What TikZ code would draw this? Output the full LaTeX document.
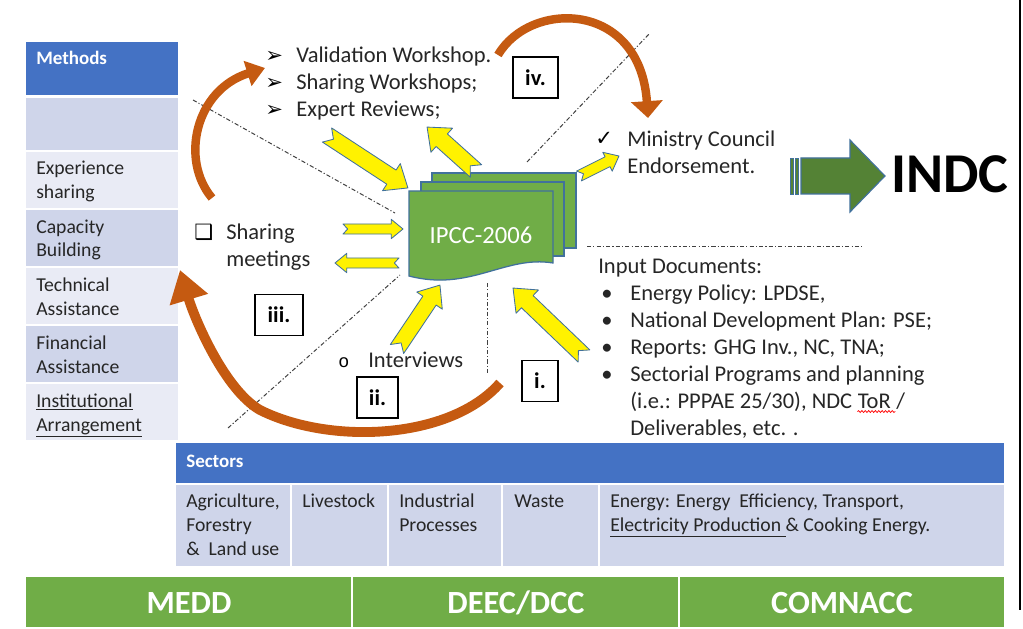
\documentclass[tikz,border=0pt]{standalone}
\usepackage{fontspec}
\setmainfont{Carlito}
\newfontfamily\symfont{DejaVu Sans}
\newfontfamily\monofont{Liberation Mono}
\usetikzlibrary{arrows.meta, calc, decorations.pathmorphing}

\definecolor{hdrblue}{HTML}{4472C4}
\definecolor{rowdark}{HTML}{CFD5EA}
\definecolor{rowlight}{HTML}{E9EBF5}
\definecolor{barGreen}{HTML}{70AD47}
\definecolor{arrowgreen}{HTML}{548235}
\definecolor{docblue}{HTML}{41719C}
\definecolor{rust}{HTML}{C55A11}
\definecolor{inkgray}{HTML}{262626}

% notched yellow block arrow: [size]{tail}{tip}
\newcommand\yarrow[3][1]{%
  \path[yarrowstyle] let \p1=($(#3)-(#2)$), \n1={veclen(\x1,\y1)}, \n2={atan2(\y1,\x1)} in
    [shift={(#2)}, rotate=\n2]
    (0pt,{#1*6pt}) -- ({\n1-#1*14pt},{#1*6pt}) -- ({\n1-#1*14pt},{#1*11.5pt}) -- ({\n1+0pt},0pt)
    -- ({\n1-#1*14pt},{-#1*11.5pt}) -- ({\n1-#1*14pt},{-#1*6pt}) -- (0pt,{-#1*6pt}) -- ({#1*5.5pt},0pt) -- cycle;}

\begin{document}
\begin{tikzpicture}[x=0.025cm, y=-0.025cm,
    lbl/.style={font=\fontsize{16}{19.2}\selectfont, text=inkgray, inner sep=0pt, anchor=base west},
    cell/.style={font=\fontsize{14}{17}\selectfont, text=inkgray, inner sep=0pt, anchor=base west},
    hdr/.style={font=\fontsize{13.5}{16}\selectfont\bfseries, text=white, inner sep=0pt, anchor=base west},
    sym/.style={font=\symfont\fontsize{15}{18}\selectfont, text=black, inner sep=0pt, anchor=base west},
    stage/.style={draw, fill=white, line width=1pt, font=\fontsize{16}{19}\selectfont\bfseries, minimum height=1.025cm, inner sep=0pt},
    agency/.style={font=\fontsize{23}{27}\selectfont\bfseries, text=white, anchor=base},
    axis/.style={dash pattern=on 3pt off 1.5pt on 0.8pt off 1.5pt, line width=0.7pt, black!75},
    loop/.style={line width=6pt, rust},
    yarrowstyle/.style={fill=yellow, draw=docblue, line width=0.6pt, line join=round},
    doc/.style={fill=barGreen, draw=docblue, line width=0.9pt}]

    \fill[white] (0,0) rectangle (1023,629);
    \useasboundingbox (0,0) rectangle (1023,629);

    % methods column
    \fill[hdrblue] (26,42) rectangle (178,95);
    \node[hdr] (methods) at (36,65) {Methods};
    \fill[rowdark] (26,98) rectangle (178,150);
    \foreach \ya/\rowc/\la/\lb [count=\i] in {152/rowlight/Experience/sharing,
        210/rowdark/Capacity/Building, 268/rowlight/Technical/Assistance,
        326/rowdark/Financial/Assistance, 384/rowlight/\underline{Institutional}/\underline{Arrangement}} {
      \fill[\rowc] (26,\ya) rectangle (178,\ya+56);
      \node[cell] (meth\i-a) at (36,\ya+23) {\la};
      \node[cell] (meth\i-b) at (36,\ya+47) {\lb};
    }

    % sectors table
    \fill[hdrblue] (176,443) rectangle (1004,483);
    \node[hdr] (sectors) at (186,467) {Sectors};
    \foreach \l/\r in {176/290, 292/387, 389/501, 503/598, 600/1004}
      \fill[rowdark] (\l,485) rectangle (\r,566);
    \node[cell] (agri1) at (186,507) {Agriculture,};
    \node[cell] (agri2) at (186,531) {Forestry};
    \node[cell] (agri3) at (186,555) {\&\ \ Land use};
    \node[cell] (livestock) at (302,507) {Livestock};
    \node[cell] (indus1) at (399,507) {Industrial};
    \node[cell] (indus2) at (399,531) {Processes};
    \node[cell] (waste) at (514,507) {Waste};
    \node[cell] (energy1) at (610,507) {Energy: Energy\ \ Efficiency, Transport,};
    \node[cell] (energy2) at (610,531) {\underline{Electricity Production\ }\& Cooking Energy.};

    % agencies
    \fill[barGreen] (26,577) rectangle (351,627);
    \fill[barGreen] (353,577) rectangle (678,627);
    \fill[barGreen] (680,577) rectangle (1004,627);
    \node[agency] (medd) at (189,613) {MEDD};
    \node[agency] (deec) at (516,613) {DEEC/DCC};
    \node[agency] (comnacc) at (842,613) {COMNACC};

    \draw[line width=1pt] (1020,0) -- (1020,610);

    % dash-dot separators
    \draw[axis] (193,100) -- (395,213);
    \draw[axis] (527,162) -- (650,33);
    \draw[axis] (228,428) -- (400,275);
    \draw[axis] (487,283) -- (487,373);
    \draw[axis] (587,246) -- (862,246);

    % IPCC document stack
    \draw[doc] (432,173) rectangle (576,248);
    \draw[doc] (421,182) rectangle (564,256);
    \draw[doc] (409,191) -- (553,191) -- (553,263) .. controls (505,255) and (470,292) .. (409,276) -- cycle;
    \node[font=\fontsize{17.5}{20}\selectfont, text=white] (ipcc) at (481,235) {IPCC-2006};

    % labels
    \node[sym] (bul1) at (265,63) {➢};
    \node[sym] (bul2) at (265,90) {➢};
    \node[sym] (bul3) at (265,117) {➢};
    \node[lbl] (valid) at (296,63) {Validation Workshop.};
    \node[lbl] (sharews) at (296,90) {Sharing Workshops;};
    \node[lbl] (expert) at (296,117) {Expert Reviews;};

    \node[sym] (tick) at (595,146) {✓};
    \node[lbl] (ministry) at (627,147) {Ministry Council};
    \node[lbl] (endorse) at (627,174) {Endorsement.};

    \node[sym] (sqbul) at (194,240) {❑};
    \node[lbl] (sharing) at (226,240) {Sharing};
    \node[lbl] (meetings) at (226,266) {meetings};

    \node[font=\monofont\fontsize{13}{16}\selectfont, inner sep=0pt, anchor=base west] (obul) at (338,367) {o};
    \node[lbl] (interviews) at (368,367) {Interviews};

    \node[lbl] (inputs) at (598,273) {Input Documents:};
    \node[lbl] (dot1) at (601,300) {•};
    \node[lbl] (dot2) at (601,327) {•};
    \node[lbl] (dot3) at (601,354) {•};
    \node[lbl] (dot4) at (601,381) {•};
    \node[lbl] (doc1) at (630,300) {Energy Policy: LPDSE,};
    \node[lbl] (doc2) at (630,327) {National Development Plan: PSE;};
    \node[lbl] (doc3) at (630,354) {Reports: GHG Inv., NC, TNA;};
    \node[lbl] (doc4) at (630,381) {Sectorial Programs and planning};
    \node[lbl] (doc5) at (630,408) {(i.e.: PPPAE 25/30), NDC};
    \node[lbl] (tor) at ([xshift=3.6pt]doc5.base east) {ToR};
    \node[lbl] (slash) at ([xshift=3.6pt]tor.base east) {/};
    \node[lbl] (doc6) at (630,435) {Deliverables, etc. .};
    \draw[red, line width=0.5pt, decorate, decoration={snake, amplitude=0.7pt, segment length=2.4pt}]
        ([yshift=-2.5pt]tor.base west) -- ([yshift=-2.5pt, xshift=3pt]tor.base east);

    % INDC
    \draw[fill=arrowgreen, draw=docblue, line width=0.6pt] (790,158) rectangle (793,194);
    \draw[fill=arrowgreen, draw=docblue, line width=0.6pt] (795,158) rectangle (798,194);
    \draw[fill=arrowgreen, draw=docblue, line width=0.8pt] (801,158) -- (850,158) -- (850,140)
        -- (885,176) -- (850,212) -- (850,194) -- (801,194) -- cycle;
    \node[font=\fontsize{40}{44}\selectfont\bfseries, anchor=base] (indc) at (950,193) {INDC};

    % stage boxes
    \node[stage, minimum width=1.125cm] (iv) at (535.5,77.5) {iv.};
    \node[stage, minimum width=1.2cm] (iii) at (279,315) {iii.};
    \node[stage, minimum width=1.025cm] (ii) at (377.5,397.5) {ii.};
    \node[stage, minimum width=0.9cm] (i) at (540,381) {i.};

    % yellow arrows
    \coordinate (expTail) at (327,135);   \coordinate (expTip) at (408,188);
    \coordinate (upTail) at (476,171);    \coordinate (upTip) at (427,127);
    \coordinate (minTail) at (579,176);   \coordinate (minTip) at (619,156);
    \coordinate (inTail) at (343,229);    \coordinate (inTip) at (403,229);
    \coordinate (outTail) at (399,263);   \coordinate (outTip) at (335,263);
    \coordinate (intTail) at (397,349);   \coordinate (intTip) at (440,285);
    \coordinate (docTail) at (584,356);   \coordinate (docTip) at (513,288);
    \yarrow{expTail}{expTip}
    \yarrow{upTail}{upTip}
    \yarrow[0.65]{minTail}{minTip}
    \yarrow[0.6]{inTail}{inTip}
    \yarrow[0.6]{outTail}{outTip}
    \yarrow[0.95]{intTail}{intTip}
    \yarrow{docTail}{docTip}

    % curved loop arrows
    \draw[loop, -{Triangle[width=18pt,length=13pt]}] (212,198) .. controls (180,160) and (195,90) .. (265,68);
    \draw[loop, -{Triangle[width=22pt,length=12pt]}] (498,55) .. controls (530,0) and (640,0) .. (648,118);
    \draw[loop, line width=7pt, -{Triangle[width=27pt,length=22pt]}] (500,383) .. controls (450,440) and (330,445)
        .. (260,410) .. controls (225,390) and (195,320) .. (180,270);
\end{tikzpicture}
\end{document}
